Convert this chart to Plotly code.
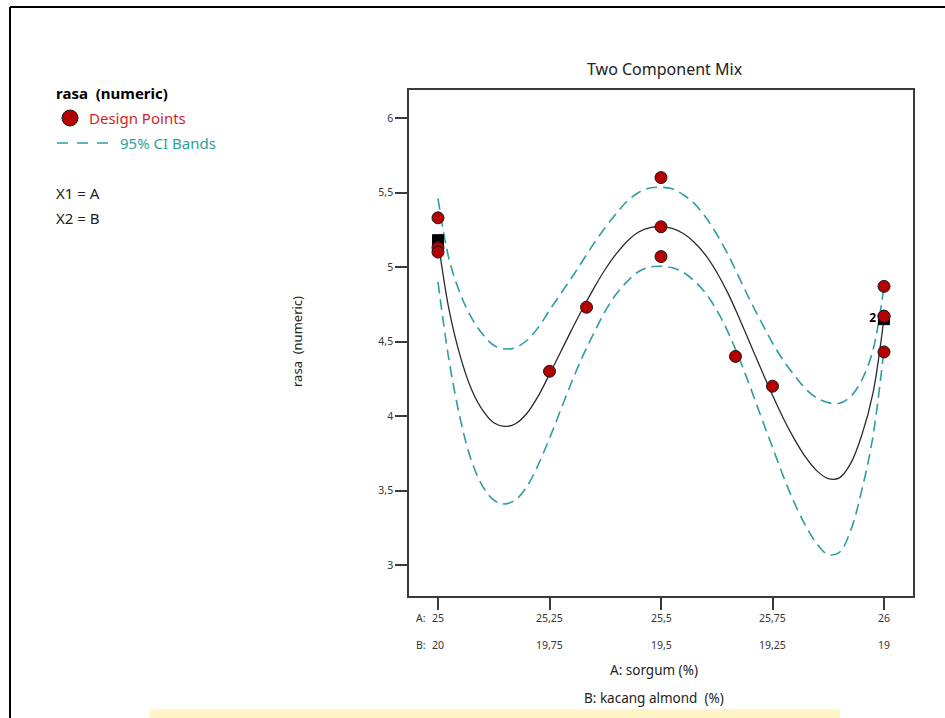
import plotly.graph_objects as go

# ---------------- data ----------------
fit_a = [25.000, 25.025, 25.050, 25.075, 25.100, 25.125, 25.150, 25.175, 25.200, 25.225,
         25.250, 25.275, 25.300, 25.325, 25.350, 25.375, 25.400, 25.425, 25.450, 25.475,
         25.500, 25.525, 25.550, 25.575, 25.600, 25.625, 25.650, 25.675, 25.700, 25.725,
         25.750, 25.775, 25.800, 25.825, 25.850, 25.875, 25.900, 25.925, 25.950, 25.975,
         26.000]
fit_rasa = [5.18, 4.71, 4.40, 4.18, 4.04, 3.955, 3.93, 3.95, 4.02, 4.135,
            4.28, 4.43, 4.58, 4.725, 4.86, 4.985, 5.09, 5.175, 5.235, 5.265,
            5.27, 5.26, 5.225, 5.165, 5.08, 4.965, 4.825, 4.66, 4.485, 4.31,
            4.14, 3.98, 3.84, 3.72, 3.63, 3.58, 3.585, 3.68, 3.87, 4.15,
            4.66]
ci_upper = [5.46, 5.05, 4.82, 4.66, 4.55, 4.475, 4.45, 4.46, 4.51, 4.595,
            4.71, 4.82, 4.93, 5.045, 5.16, 5.265, 5.36, 5.445, 5.50, 5.53,
            5.535, 5.525, 5.485, 5.425, 5.335, 5.22, 5.085, 4.93, 4.775, 4.63,
            4.49, 4.37, 4.27, 4.18, 4.12, 4.09, 4.085, 4.13, 4.24, 4.44,
            4.87]
ci_lower = [4.90, 4.37, 3.98, 3.70, 3.53, 3.435, 3.41, 3.44, 3.53, 3.675,
            3.85, 4.04, 4.23, 4.405, 4.56, 4.705, 4.82, 4.905, 4.97, 5.00,
            5.005, 4.995, 4.965, 4.905, 4.825, 4.71, 4.565, 4.39, 4.195, 3.99,
            3.79, 3.59, 3.41, 3.26, 3.14, 3.07, 3.085, 3.23, 3.50, 3.86,
            4.45]

pt_a = [25, 25, 25, 25.25, 25.333, 25.5, 25.5, 25.5, 25.667, 25.75, 26, 26, 26, 26]
pt_rasa = [5.33, 5.13, 5.10, 4.30, 4.73, 5.60, 5.27, 5.07, 4.40, 4.20, 4.87, 4.67, 4.67, 4.43]

sq_a = [25, 26]
sq_rasa = [5.18, 4.65]
sq_label = ["", "2"]

a_ticks = [25, 25.25, 25.5, 25.75, 26]
a_labels = ["25", "25,25", "25,5", "25,75", "26"]
b_labels = ["20", "19,75", "19,5", "19,25", "19"]

y_ticks = [3, 3.5, 4, 4.5, 5, 5.5, 6]
y_labels = ["3", "3,5", "4", "4,5", "5", "5,5", "6"]

# ---------------- styling / layout helpers ----------------
W, H = 945, 718
L, R, T, B = 409, 913, 90, 596
FONT = "Noto Sans"
TEAL = "#2E9E9E"
RED = "#B40000"
AX = "#3A3A3A"
TXT = "#222222"


def px(x):
    return (x - L) / (R - L)


def py(y):
    return (B - y) / (B - T)


fig = go.Figure()

for band in (ci_upper, ci_lower):
    fig.add_trace(go.Scatter(x=fit_a, y=band, mode="lines",
                             line=dict(color=TEAL, width=1.6, dash="11px,6px", shape="spline"),
                             hoverinfo="skip", showlegend=False))
fig.add_trace(go.Scatter(x=fit_a, y=fit_rasa, mode="lines",
                         line=dict(color="#2B2B2B", width=1.3, shape="spline"),
                         hoverinfo="skip", showlegend=False))
fig.add_trace(go.Scatter(x=sq_a, y=sq_rasa, mode="markers+text", text=sq_label,
                         textposition="middle left",
                         textfont=dict(family=FONT, size=12, color="black", weight="bold"),
                         marker=dict(symbol="square", size=11, color="black",
                                     line=dict(color="black", width=1)),
                         showlegend=False))
fig.add_trace(go.Scatter(x=pt_a, y=pt_rasa, mode="markers",
                         marker=dict(symbol="circle", size=12, color=RED,
                                     line=dict(color="#1A1A1A", width=1)),
                         showlegend=False))

fig.update_xaxes(range=[24.935, 26.065], showgrid=False, zeroline=False,
                 showline=True, mirror=True, linecolor=AX, linewidth=1.5,
                 ticks="outside", ticklen=12, tickwidth=1.5, tickcolor=AX,
                 tickvals=a_ticks, showticklabels=False)
fig.update_yaxes(range=[2.792, 6.188], showgrid=False, zeroline=False,
                 showline=True, mirror=True, linecolor=AX, linewidth=1.5,
                 ticks="outside", ticklen=12, tickwidth=1.5, tickcolor=AX,
                 tickvals=y_ticks, ticktext=y_labels,
                 tickfont=dict(family=FONT, size=10.5, color="#333333"))

TICKF = dict(family=FONT, size=10.5, color="#333333")
ann = []
# x tick labels (two rows: A and B)
for a, la, lb in zip(a_ticks, a_labels, b_labels):
    ann.append(dict(x=a, y=py(618), xref="x", yref="paper", text=la, showarrow=False,
                    font=TICKF, xanchor="center", yanchor="middle"))
    ann.append(dict(x=a, y=py(645), xref="x", yref="paper", text=lb, showarrow=False,
                    font=TICKF, xanchor="center", yanchor="middle"))
ann.append(dict(x=px(421), y=py(618), xref="paper", yref="paper", text="A:", showarrow=False,
                font=TICKF, xanchor="center", yanchor="middle"))
ann.append(dict(x=px(421), y=py(645), xref="paper", yref="paper", text="B:", showarrow=False,
                font=TICKF, xanchor="center", yanchor="middle"))
# axis titles
ann.append(dict(x=px(654), y=py(670), xref="paper", yref="paper", text="A: sorgum (%)", showarrow=False,
                font=dict(family=FONT, size=13.5, color=TXT), xanchor="center", yanchor="middle"))
ann.append(dict(x=px(654), y=py(698), xref="paper", yref="paper", text="B: kacang almond\u00a0 (%)",
                showarrow=False, font=dict(family=FONT, size=13.5, color=TXT),
                xanchor="center", yanchor="middle"))
ann.append(dict(x=px(297), y=py(342), xref="paper", yref="paper", text="rasa\u00a0 (numeric)",
                showarrow=False, textangle=-90, font=dict(family=FONT, size=13, color=TXT),
                xanchor="center", yanchor="middle"))
# title
ann.append(dict(x=px(665), y=py(69), xref="paper", yref="paper", text="Two Component Mix",
                showarrow=False, font=dict(family=FONT, size=16, color=TXT),
                xanchor="center", yanchor="middle"))
# legend-like header text
ann.append(dict(x=px(54), y=py(93), xref="paper", yref="paper", text="<b>rasa\u00a0 (numeric)</b>",
                showarrow=False, font=dict(family=FONT, size=15, color="black"),
                xanchor="left", yanchor="middle"))
ann.append(dict(x=px(87), y=py(118), xref="paper", yref="paper", text="Design Points",
                showarrow=False, font=dict(family=FONT, size=15, color="#D01F1F"),
                xanchor="left", yanchor="middle"))
ann.append(dict(x=px(118), y=py(143), xref="paper", yref="paper", text="95% CI Bands",
                showarrow=False, font=dict(family=FONT, size=15, color=TEAL),
                xanchor="left", yanchor="middle"))
ann.append(dict(x=px(54), y=py(193), xref="paper", yref="paper", text="X1 = A",
                showarrow=False, font=dict(family=FONT, size=15, color=TXT),
                xanchor="left", yanchor="middle"))
ann.append(dict(x=px(54), y=py(218), xref="paper", yref="paper", text="X2 = B",
                showarrow=False, font=dict(family=FONT, size=15, color=TXT),
                xanchor="left", yanchor="middle"))

shapes = [
    # outer frame (top + left)
    dict(type="line", xref="paper", yref="paper", x0=px(10), x1=px(945), y0=py(7), y1=py(7),
         line=dict(color="black", width=2)),
    dict(type="line", xref="paper", yref="paper", x0=px(10), x1=px(10), y0=py(7), y1=py(718),
         line=dict(color="black", width=2)),
    # legend marker
    dict(type="circle", xref="paper", yref="paper", x0=px(62), x1=px(78), y0=py(126), y1=py(110),
         fillcolor=RED, line=dict(color="#1A1A1A", width=1)),
    # legend dashed line
    dict(type="line", xref="paper", yref="paper", x0=px(57), x1=px(110), y0=py(143), y1=py(143),
         line=dict(color=TEAL, width=1.6, dash="11px,9px")),
    # faint watermark strip at bottom
    dict(type="rect", xref="paper", yref="paper", x0=px(150), x1=px(840), y0=py(718), y1=py(709),
         fillcolor="rgba(255,236,150,0.55)", line=dict(width=0), layer="below"),
]

fig.update_layout(width=W, height=H, margin=dict(l=L, r=W - R, t=T, b=H - B),
                  paper_bgcolor="white", plot_bgcolor="white",
                  annotations=ann, shapes=shapes, showlegend=False,
                  font=dict(family=FONT))

fig.write_html("out.html")
